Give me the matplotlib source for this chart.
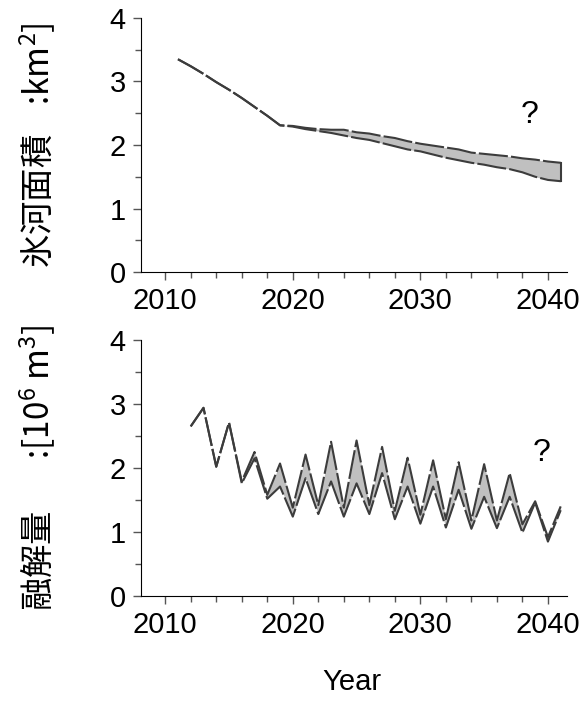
import numpy as np
import matplotlib.pyplot as plt
from matplotlib.ticker import MultipleLocator

plt.rcParams['font.family'] = ['Liberation Sans', 'Noto Sans CJK JP', 'DejaVu Sans']
plt.rcParams['mathtext.fontset'] = 'custom'
plt.rcParams['mathtext.rm'] = 'Liberation Sans'
plt.rcParams['mathtext.it'] = 'Liberation Sans'

# glacier area [km2], two scenarios
years_area = np.arange(2011, 2042)
area_hi = [3.35, 3.24, 3.12, 2.99, 2.87, 2.74, 2.60, 2.46, 2.31, 2.30, 2.27,
           2.25, 2.24, 2.24, 2.20, 2.18, 2.14, 2.11, 2.06, 2.02, 1.99, 1.96,
           1.93, 1.88, 1.86, 1.84, 1.82, 1.79, 1.77, 1.74, 1.72]
area_lo = [3.35, 3.24, 3.12, 2.99, 2.87, 2.74, 2.60, 2.46, 2.31, 2.29, 2.25,
           2.22, 2.19, 2.15, 2.11, 2.08, 2.03, 1.98, 1.93, 1.90, 1.85, 1.80,
           1.76, 1.72, 1.69, 1.65, 1.62, 1.57, 1.50, 1.45, 1.43]

# melt volume [10^6 m3]
years_melt = np.arange(2012, 2042)
melt_hi = [2.65, 2.94, 2.02, 2.71, 1.79, 2.25, 1.58, 2.07, 1.38, 2.21,
           1.42, 2.41, 1.38, 2.43, 1.42, 2.33, 1.33, 2.16, 1.27, 2.12,
           1.20, 2.09, 1.18, 2.06, 1.18, 1.92, 1.12, 1.48, 0.92, 1.40]
melt_lo = [2.65, 2.94, 2.02, 2.71, 1.76, 2.15, 1.52, 1.71, 1.24, 1.84,
           1.28, 1.79, 1.24, 1.76, 1.28, 1.92, 1.20, 1.71, 1.13, 1.71,
           1.07, 1.66, 1.05, 1.55, 1.06, 1.55, 0.99, 1.46, 0.85, 1.34]

line_col = '#3c3c3c'
fill_col = '#c0c0c0'
dash = (14, 1.5)

fig = plt.figure(figsize=(5.84, 7.02), dpi=100)
ax1 = fig.add_axes([0.2414, 0.6125, 0.7296, 0.3619])
ax2 = fig.add_axes([0.2414, 0.151, 0.7296, 0.3647])


def style(ax):
    ax.set_xlim(2008.1, 2041.5)
    ax.set_ylim(0, 4)
    ax.spines['top'].set_visible(False)
    ax.spines['right'].set_visible(False)
    ax.xaxis.set_minor_locator(MultipleLocator(2))
    ax.yaxis.set_major_locator(MultipleLocator(1))
    ax.yaxis.set_minor_locator(MultipleLocator(0.5))
    ax.tick_params(which='major', length=6, width=1, color='#555555',
                   labelsize=21, pad=5)
    ax.tick_params(which='minor', length=4, width=1, color='#555555')
    ax.set_xticks([2010, 2020, 2030, 2040])
    ax.set_xticklabels(['2010', '2020', '2030', '2040'])


style(ax1)
style(ax2)

ax1.fill_between(years_area, area_lo, area_hi, color=fill_col, lw=0)
ax1.plot(years_area, area_hi, color=line_col, lw=1.5, dashes=dash)
ax1.plot(years_area, area_lo, color=line_col, lw=1.5, dashes=dash)
ax1.plot([years_area[-1], years_area[-1]], [area_lo[-1], area_hi[-1]],
         color=line_col, lw=1.5)
ax1.text(2038.6, 2.47, '?', fontsize=23, ha='center', va='center')

ax2.fill_between(years_melt, melt_lo, melt_hi, color=fill_col, lw=0)
ax2.plot(years_melt, melt_hi, color=line_col, lw=1.5, dashes=dash)
ax2.plot(years_melt, melt_lo, color=line_col, lw=1.5, dashes=dash)
ax2.text(2039.5, 2.23, '?', fontsize=23, ha='center', va='center')

lab_fam = ['Noto Sans CJK JP', 'Liberation Sans']
ax1.set_ylabel('氷河面積    :km$\\mathregular{^2}$]', fontsize=24,
               family=lab_fam, labelpad=37)
ax2.set_ylabel('融解量       :[10$\\mathregular{^6}$ m$\\mathregular{^3}$]',
               fontsize=24, family=lab_fam, labelpad=37)

fig.text(0.603, 0.017, 'Year', fontsize=21, ha='center', va='baseline')

fig.savefig('out.png', dpi=100)
